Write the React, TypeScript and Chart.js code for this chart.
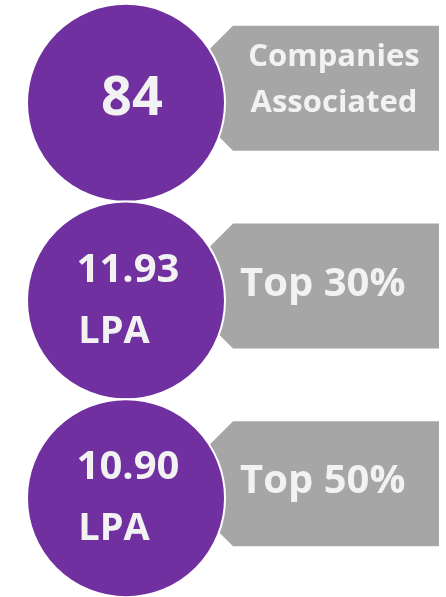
import React, { useEffect, useRef } from 'react';
import { Chart, registerables } from 'chart.js';

Chart.register(...registerables);

// ---- data ----
const rows = ['companies', 'top30', 'top50'];
const valueLabels = ['84', '11.93', '10.90'];
const unitLabels = ['', 'LPA', 'LPA'];
const captionLines = [['Companies', 'Associated'], ['Top 30%'], ['Top 50%']];

// ---- style ----
const PURPLE = '#7030a0';
const GREY = '#a6a6a6';
const TEXT = '#f2f2f2';
const FONT = '"Open Sans", Lato, sans-serif';
const CIRCLE_X = 126;
const TAG_LEFT = 233;
const TAG_RIGHT = 439;

export default function App() {
  const ref = useRef<HTMLCanvasElement>(null);

  useEffect(() => {
    document.body.style.margin = '0';
    const canvas = ref.current;
    if (!canvas) return;

    const tagPlugin = {
      id: 'tags',
      beforeDatasetsDraw(chart: any) {
        const { ctx, scales } = chart;
        const x = scales.x;
        const y = scales.y;
        ctx.save();
        rows.forEach((_r, i) => {
          const cy = y.getPixelForValue(i);
          const top = cy - 77;
          const bottom = cy + 48;
          const mid = (top + bottom) / 2;
          const left = x.getPixelForValue(TAG_LEFT);
          const right = x.getPixelForValue(TAG_RIGHT);
          ctx.fillStyle = GREY;
          ctx.beginPath();
          ctx.moveTo(left, top);
          ctx.lineTo(right, top);
          ctx.lineTo(right, bottom);
          ctx.lineTo(left, bottom);
          ctx.lineTo(left - (bottom - mid), mid);
          ctx.closePath();
          ctx.fill();

          const lines = captionLines[i];
          ctx.fillStyle = TEXT;
          ctx.textBaseline = 'alphabetic';
          if (lines.length > 1) {
            ctx.font = `bold 31px ${FONT}`;
            ctx.textAlign = 'center';
            const cx = (left + right) / 2 - 2;
            ctx.fillText(lines[0], cx, cy - 37);
            ctx.fillText(lines[1], cx, cy + 9);
          } else {
            ctx.font = `bold 40px ${FONT}`;
            ctx.textAlign = 'left';
            ctx.fillText(lines[0], left + 7, cy - 5);
          }
        });
        ctx.restore();
      },
      afterDatasetsDraw(chart: any) {
        const { ctx, scales } = chart;
        const x = scales.x;
        const y = scales.y;
        ctx.save();
        ctx.fillStyle = TEXT;
        ctx.textBaseline = 'alphabetic';
        ctx.textAlign = 'center';
        rows.forEach((_r, i) => {
          const cy = y.getPixelForValue(i);
          const cx = x.getPixelForValue(CIRCLE_X);
          if (!unitLabels[i]) {
            ctx.font = `bold 54px ${FONT}`;
            ctx.fillText(valueLabels[i], cx + 6, cy + 12);
          } else {
            ctx.font = `bold 40px ${FONT}`;
            ctx.fillText(valueLabels[i], cx + 2, cy - 19);
            ctx.font = `bold 38px ${FONT}`;
            ctx.fillText(unitLabels[i], cx - 12, cy + 42);
          }
        });
        ctx.restore();
      },
    };

    const chart = new Chart(canvas, {
      type: 'scatter',
      data: {
        datasets: [
          {
            data: rows.map((r) => ({ x: CIRCLE_X, y: r })) as any,
            pointRadius: 99,
            pointHoverRadius: 99,
            backgroundColor: PURPLE,
            borderColor: '#ffffff',
            borderWidth: 2,
            clip: false as any,
          },
        ],
      },
      options: {
        animation: false,
        responsive: false,
        maintainAspectRatio: false,
        devicePixelRatio: 1,
        events: [],
        layout: { autoPadding: false, padding: { top: 4, left: 0, right: 0, bottom: 0 } },
        plugins: { legend: { display: false }, tooltip: { enabled: false } },
        scales: {
          x: { type: 'linear', min: 0, max: 446, display: false },
          y: { type: 'category', labels: rows, offset: true, display: false },
        },
      },
      plugins: [tagPlugin],
    });

    return () => chart.destroy();
  }, []);

  return (
    <div style={{ width: 446, height: 597, position: 'absolute', left: 0, top: 0 }}>
      <canvas ref={ref} width={446} height={597} style={{ display: 'block', width: 446, height: 597 }} />
    </div>
  );
}
